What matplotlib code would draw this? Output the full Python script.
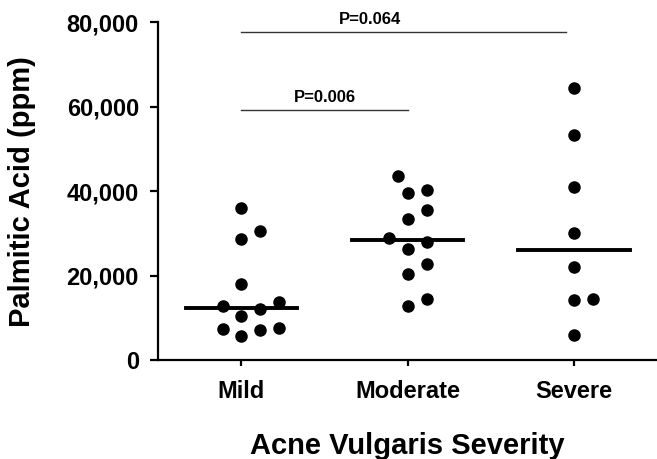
import numpy as np
import matplotlib.pyplot as plt

plt.rcParams['font.family'] = ['Liberation Sans', 'DejaVu Sans']
plt.rcParams['font.weight'] = 'bold'

groups = ['Mild', 'Moderate', 'Severe']
mild = [36.0, 30.5, 28.6, 18.0, 13.8, 12.2, 12.8, 10.6, 7.5, 7.1, 7.7, 5.8]
moderate = [43.6, 39.6, 40.4, 35.5, 33.5, 29.0, 28.0, 26.3, 22.9, 20.4, 14.6, 12.9]
severe = [64.3, 53.3, 41.1, 30.2, 22.2, 14.5, 14.3, 6.0]
data = [np.array(v) * 1000 for v in (mild, moderate, severe)]

# significance brackets: (group a, group b, p text)
pvals = [(0, 1, 'P=0.006'), (0, 2, 'P=0.064')]
bracket_y = [59200, 77700]

fig = plt.figure(figsize=(6.57, 4.59), dpi=100)
ax = fig.add_axes([0.241, 0.2146, 0.759, 0.7374])
ax.set_xlim(0.5, 3.5)
ax.set_ylim(0, 80000)

msize = 8.0  # points
diam = msize * 100 / 72  # px


def swarm(vals, center):
    # greedy column scatter in pixel space, points kept well apart like prism
    order = np.argsort(vals)
    ypx = ax.transData.transform(np.column_stack([np.full(len(vals), center), vals]))[:, 1]
    gap = diam * 1.7
    step = gap / 2
    placed = []
    xs = np.zeros(len(vals))
    for i in order:
        k = 0
        while True:
            cands = [0.0] if k == 0 else [k * step, -k * step]
            ok = None
            for c in cands:
                if all((c - px) ** 2 + (ypx[i] - py) ** 2 >= gap ** 2 for px, py in placed):
                    ok = c
                    break
            if ok is not None:
                placed.append((ok, ypx[i]))
                xs[i] = ok
                break
            k += 1
    upx = ax.transData.transform([[1, 0], [2, 0]])
    per_unit = upx[1, 0] - upx[0, 0]
    return center + xs / per_unit


for i, vals in enumerate(data):
    pos = i + 1
    xs = swarm(vals, pos)
    ax.plot(xs, vals, 'o', color='black', markersize=msize, zorder=3)
    ax.plot([pos - 0.335, pos + 0.335], [np.median(vals)] * 2, color='black', lw=2.8, zorder=2)

for (a, b, txt), yb in zip(pvals, bracket_y):
    x0, x1 = a + 1, b + 1
    if b == 2:
        x1 = b + 1 - 0.045
    ax.plot([x0, x1], [yb, yb], color='#333333', lw=1.0, clip_on=False)
    tx = (x0 + x1) / 2 if b == 1 else 1.775
    ax.text(tx, yb + 1200, txt, ha='center', va='bottom', fontsize=12, fontweight='bold', clip_on=False)

ax.spines['top'].set_visible(False)
ax.spines['right'].set_visible(False)
for s in ('left', 'bottom'):
    ax.spines[s].set_linewidth(1.6)

ax.set_xticks([1, 2, 3])
ax.set_xticklabels(groups)
ax.set_yticks([0, 20000, 40000, 60000, 80000])
ax.set_yticklabels(['0', '20,000', '40,000', '60,000', '80,000'])
ax.tick_params(axis='y', length=6, width=1.6, labelsize=17, pad=8)
ax.tick_params(axis='x', length=4, width=1.6, labelsize=17, pad=10)

ax.set_xlabel('Acne Vulgaris Severity', fontsize=21, fontweight='bold', labelpad=21)
ax.set_ylabel('Palmitic Acid (ppm)', fontsize=21, fontweight='bold', labelpad=22)

fig.savefig('out.png', dpi=100)
